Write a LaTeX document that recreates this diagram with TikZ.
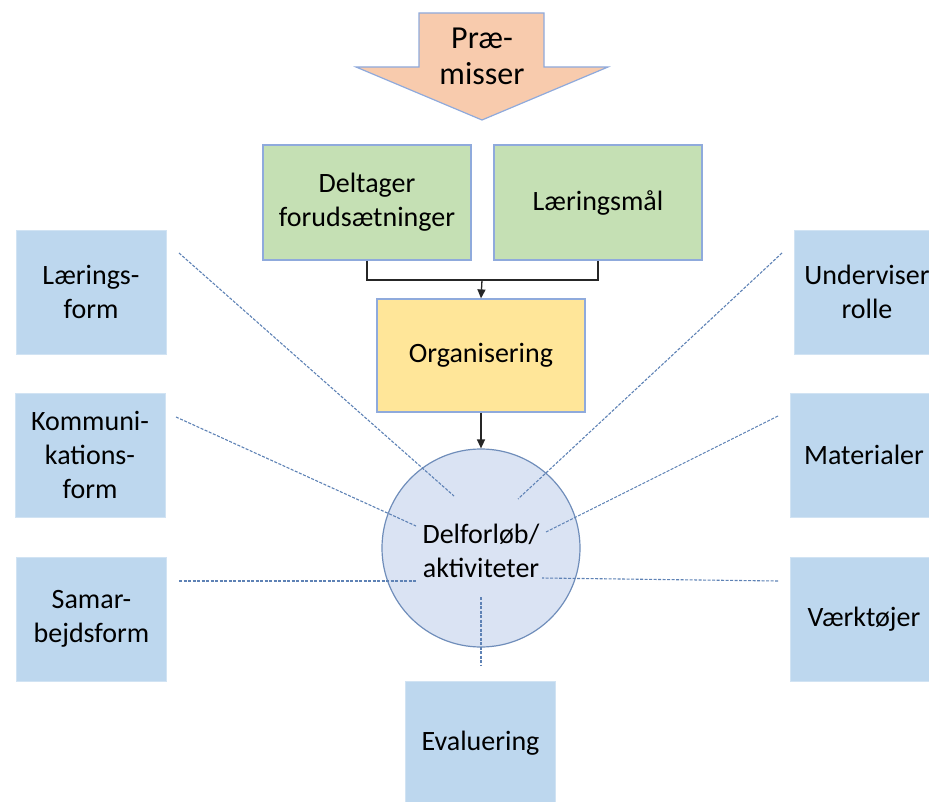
\documentclass[tikz,border=0pt]{standalone}
\usepackage{fontspec}
\setmainfont{Carlito}
\usetikzlibrary{arrows.meta}
\definecolor{boxblue}{HTML}{BDD7EE}
\definecolor{boxgreen}{HTML}{C5E0B4}
\definecolor{boxyellow}{HTML}{FFE699}
\definecolor{peach}{HTML}{F8CBAD}
\definecolor{circfill}{HTML}{DAE3F3}
\definecolor{edgeblue}{HTML}{8FAADC}
\definecolor{circedge}{HTML}{6F8DBA}
\definecolor{dashblue}{HTML}{5E82B5}
\tikzset{
  x=1pt, y=-1pt,
  txt/.style={font=\fontsize{28}{34}\selectfont, align=center, text=black},
  bluebox/.style={txt, fill=boxblue, draw=boxblue!70!white, line width=0.8pt, minimum width=150pt, minimum height=124pt, inner sep=0pt},
  greenbox/.style={txt, fill=boxgreen, draw=edgeblue, line width=1.2pt, minimum width=208pt, minimum height=115pt, inner sep=0pt},
  yellowbox/.style={txt, fill=boxyellow, draw=edgeblue, line width=1.2pt, minimum width=208pt, minimum height=113pt, inner sep=0pt},
  flow/.style={draw=black!85, line width=1.3pt, -{Triangle[length=9pt,width=8pt]}},
  elbow/.style={draw=black!85, line width=1.3pt},
  link/.style={draw=dashblue, line width=1.1pt, dash pattern=on 3pt off 1.5pt},
}
\begin{document}
\begin{tikzpicture}
\useasboundingbox (0,0) rectangle (929,802);
\clip (0,0) rectangle (929,802);
% premise arrow
\draw[fill=peach, draw=edgeblue, line width=1.2pt] (419,13) -- (544,13) -- (544,67) -- (608,67) -- (482,120) -- (356,67) -- (419,67) -- cycle;
\node[font=\fontsize{32}{36}\selectfont, align=center] (premisser) at (482,56) {Præ-\\misser};
% green boxes
\node[greenbox] (deltager) at (367,202.5) {Deltager\\forudsætninger};
\node[greenbox] (laeringsmaal) at (598,202.5) {Læringsmål};
% organisering
\node[yellowbox] (org) at (481,355.5) {Organisering};
% circle
\node[circle, fill=circfill, draw=circedge, line width=1.2pt, minimum size=198pt, inner sep=0pt] (circ) at (481,548) {};
\node[txt] (circtxt) at (481,551) {Delforløb/\\aktiviteter};
% connectors
\coordinate (join) at (482,280);
\draw[elbow] (deltager.south) |- (join) -| (laeringsmaal.south);
\draw[flow] (join) -- (org.north);
\draw[flow] (org.south) -- (circ.north);
% left boxes
\node[bluebox] (lform) at (91,292) {Lærings-\\form};
\node[bluebox] (kform) at (90,455) {Kommuni-\\kations-\\form};
\node[bluebox] (sform) at (91.5,619) {Samar-\\bejdsform};
% right boxes
\node[bluebox] (urolle) at (869,292) {};
\node[txt] (urolletxt) at (867,292) {Underviser\\rolle};
\node[bluebox] (mat) at (865,455) {};
\node[txt] (mattxt) at (864,455) {Materialer};
\node[bluebox] (vaerk) at (865,619) {};
\node[txt] (vaerktxt) at (864,619) {Værktøjer};
% bottom box
\node[bluebox] (eval) at (480.5,743) {Evaluering};
% dashed links
\coordinate (l1a) at (179,253); \coordinate (l1b) at (454,496);
\coordinate (l2a) at (176,417); \coordinate (l2b) at (416,526);
\coordinate (l3a) at (179,581); \coordinate (l3b) at (417,581);
\coordinate (r1a) at (782,253); \coordinate (r1b) at (518,499);
\coordinate (r2a) at (778,416); \coordinate (r2b) at (546,532);
\coordinate (r3a) at (778,581); \coordinate (r3b) at (542,578);
\coordinate (e1a) at (481,597); \coordinate (e1b) at (481,665);
\draw[link] (l1a) -- (l1b);
\draw[link] (l2a) -- (l2b);
\draw[link] (l3a) -- (l3b);
\draw[link] (r1a) -- (r1b);
\draw[link] (r2a) -- (r2b);
\draw[link] (r3a) -- (r3b);
\draw[link] (e1a) -- (e1b);
\end{tikzpicture}
\end{document}
